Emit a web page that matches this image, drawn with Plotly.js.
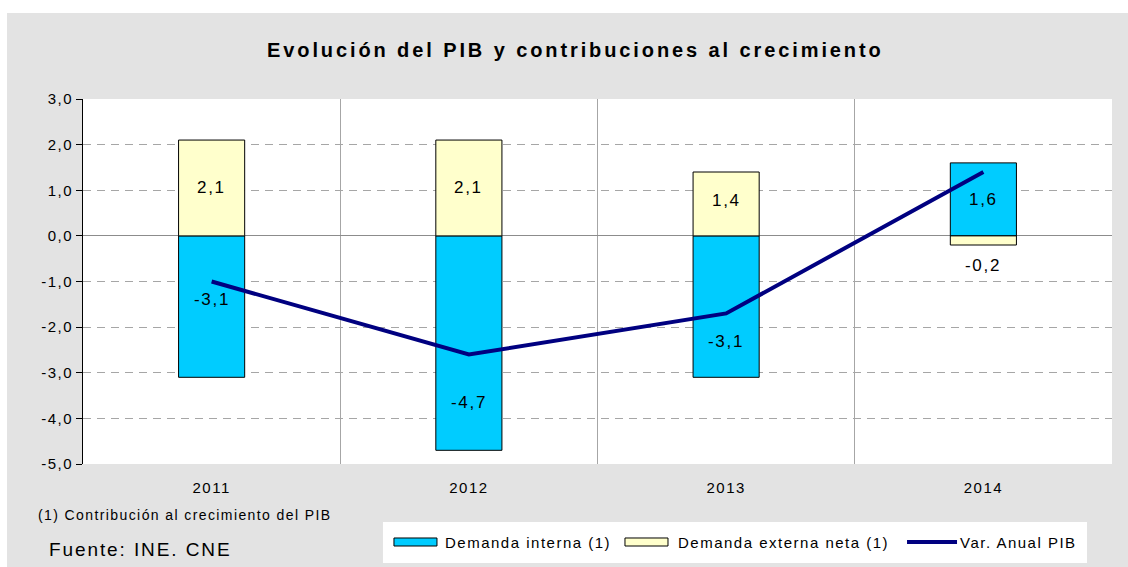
<!DOCTYPE html>
<html>
<head>
<meta charset="utf-8">
<script src="https://cdn.plot.ly/plotly-3.0.1.min.js"></script>
<style>
html,body{margin:0;padding:0;background:#ffffff;}
#chart{position:absolute;left:7px;top:13px;width:1121px;height:554px;}
svg text{letter-spacing:0.1em;}
svg text.gtitle{letter-spacing:2.9px;}
</style>
</head>
<body>
<div id="chart"></div>
<script>
const categories = ['2011', '2012', '2013', '2014'];
const demandaInterna = [-3.1, -4.7, -3.1, 1.6];
const demandaExterna = [2.1, 2.1, 1.4, -0.2];
const varAnualPIB = [-1.0, -2.6, -1.7, 1.4];
const yTickVals = [-5, -4, -3, -2, -1, 0, 1, 2, 3];
const seriesNames = ['Demanda interna (1)', 'Demanda externa neta (1)', 'Var. Anual PIB'];

// label placement (layout only)
const internaLabelY = [-1.4, -3.66, -2.32, 0.8];
const externaLabelY = [1.07, 1.07, 0.77, -0.66];

const fmt = v => v.toFixed(1).replace('.', ',');
const FONT = 'Liberation Sans, Arial, sans-serif';
const C_INT = '#00CCFF', C_EXT = '#FFFFCC', C_LINE = '#000080';

const traces = [
  {
    type: 'bar', name: seriesNames[0], x: categories, y: demandaInterna,
    marker: {color: C_INT, line: {color: '#000000', width: 1}}, showlegend: false
  },
  {
    type: 'bar', name: seriesNames[1], x: categories, y: demandaExterna,
    marker: {color: C_EXT, line: {color: '#000000', width: 1}}, showlegend: false
  },
  {
    type: 'scatter', mode: 'lines', name: seriesNames[2], x: categories, y: varAnualPIB,
    line: {color: C_LINE, width: 4}, showlegend: false
  }
];

const annotations = [];
categories.forEach((c, i) => {
  annotations.push({x: i, y: internaLabelY[i], xref: 'x', yref: 'y', text: fmt(demandaInterna[i]),
    showarrow: false, font: {family: FONT, size: 17, color: '#000'}});
  annotations.push({x: i, y: externaLabelY[i], xref: 'x', yref: 'y', text: fmt(demandaExterna[i]),
    showarrow: false, font: {family: FONT, size: 17, color: '#000'}});
});
annotations.push({xref: 'paper', yref: 'paper', x: -0.0457, y: -0.1397, xanchor: 'left', yanchor: 'middle',
  text: '(1) Contribución al crecimiento del PIB', showarrow: false, font: {family: FONT, size: 14, color: '#000'}});
annotations.push({xref: 'paper', yref: 'paper', x: -0.035, y: -0.2329, xanchor: 'left', yanchor: 'middle',
  text: 'Fuente: INE. CNE', showarrow: false, font: {family: FONT, size: 19, color: '#000'}});

// custom legend (paper coords relative to plot area)
const legY = -0.2137;
const legTextX = [0.3499, 0.5763, 0.8503];
seriesNames.forEach((n, i) => {
  annotations.push({xref: 'paper', yref: 'paper', x: legTextX[i], y: legY, xanchor: 'left', yanchor: 'middle',
    text: n, showarrow: false, font: {family: FONT, size: 15, color: '#000'}});
});
const shapes = [
  {type: 'rect', xref: 'paper', yref: 'paper', x0: 0.2915, x1: 0.9757, y0: -0.2712, y1: -0.1589,
    fillcolor: '#ffffff', line: {width: 0}, layer: 'below'},
  {type: 'rect', xref: 'paper', yref: 'paper', x0: 0.3022, x1: 0.3440, y0: -0.2247, y1: -0.2027,
    fillcolor: C_INT, line: {color: '#000', width: 1}},
  {type: 'rect', xref: 'paper', yref: 'paper', x0: 0.5267, x1: 0.5685, y0: -0.2247, y1: -0.2027,
    fillcolor: C_EXT, line: {color: '#000', width: 1}},
  {type: 'line', xref: 'paper', yref: 'paper', x0: 0.8008, x1: 0.8494, y0: legY, y1: legY,
    line: {color: C_LINE, width: 4}}
];

const layout = {
  width: 1121, height: 554,
  paper_bgcolor: '#e3e3e3',
  plot_bgcolor: '#ffffff',
  margin: {l: 76, r: 16, t: 86, b: 103},
  separators: ',.',
  barmode: 'relative',
  bargap: 0.743,
  font: {family: FONT, size: 13, color: '#000'},
  title: {text: '<b>Evolución del PIB y contribuciones al crecimiento</b>', x: 0.507, xanchor: 'center', y: 0.934, yanchor: 'middle',
    font: {family: FONT, size: 20, color: '#000'}},
  xaxis: {
    type: 'category', tickson: 'boundaries', showgrid: true, gridcolor: '#a6a6a6', gridwidth: 1,
    ticks: '', showline: false, zeroline: false, tickangle: 0, ticklabelstandoff: 13,
    tickfont: {family: FONT, size: 15}, fixedrange: true
  },
  yaxis: {
    range: [-5, 3], tickvals: yTickVals, ticktext: yTickVals.map(fmt), showgrid: true, gridcolor: '#a6a6a6',
    griddash: '8px,6px', gridwidth: 1, zeroline: true, zerolinecolor: '#8c8c8c', zerolinewidth: 1,
    showline: true, linecolor: '#000', linewidth: 1, ticks: 'outside', ticklen: 6, tickcolor: '#000',
    tickfont: {family: FONT, size: 15}, fixedrange: true
  },
  showlegend: false,
  annotations: annotations,
  shapes: shapes
};

Plotly.newPlot('chart', traces, layout, {displayModeBar: false, staticPlot: true});
</script>
</body>
</html>
